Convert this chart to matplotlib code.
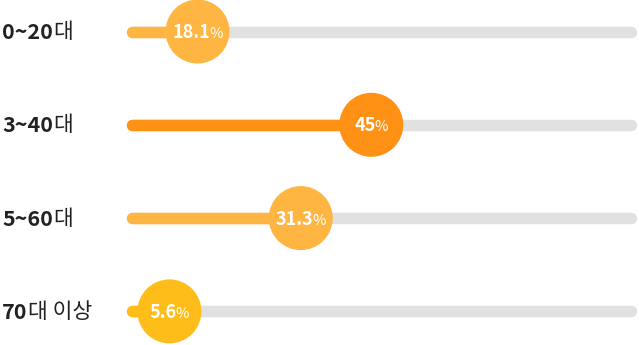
import matplotlib
matplotlib.use("Agg")
import matplotlib.pyplot as plt
from matplotlib.transforms import offset_copy

plt.rcParams['font.family'] = ['Noto Sans CJK KR', 'DejaVu Sans']

# ---- data ----
age_bold = ["0~20", "3~40", "5~60", "70"]
age_rest = ["대", "대", "대", "대 이상"]
values = [18.1, 45, 31.3, 5.6]
value_labels = ["18.1", "45", "31.3", "5.6"]
# where the badges sit on the 0-100 track
badge_pos = [14.0, 48.0, 34.2, 8.5]
colors = ["#FFB541", "#FF9114", "#FFB541", "#FFBD19"]
track_color = "#E1E1E1"

# ---- layout ----
W, H = 639, 345
DPI = 100
track_x0, track_x1 = 126, 637        # pixels
row_y0, row_gap = 31.5, 93.3         # pixels
bar_px = 11.5
badge_px = 64
num_fs, pct_fs = 13, 10.5
gap_px = -1.2

px_per_pct = (track_x1 - track_x0) / 100.0
px2pt = 72.0 / DPI

fig = plt.figure(figsize=(W / DPI, H / DPI), dpi=DPI)
ax = fig.add_axes([0, 0, 1, 1])
ax.set_xlim(-track_x0 / px_per_pct, (W - track_x0) / px_per_pct)
ax.set_ylim((H - row_y0) / row_gap, -row_y0 / row_gap)
ax.axis("off")

cap = bar_px / 2 / px_per_pct   # round cap length in percent units
rows = range(len(values))

for i in rows:
    # background track
    ax.plot([cap, 100 - cap], [i, i], color=track_color, lw=bar_px * px2pt,
            solid_capstyle="round", zorder=1)
    # filled part
    ax.plot([cap, max(values[i], badge_pos[i])], [i, i], color=colors[i],
            lw=bar_px * px2pt, solid_capstyle="round", zorder=2)
    # badge
    ax.scatter([badge_pos[i]], [i], s=(badge_px * px2pt) ** 2, color=colors[i],
               edgecolors="none", zorder=3)

fig.canvas.draw()
r = fig.canvas.get_renderer()

for i in rows:
    # row label: bold numbers + regular suffix
    t1 = fig.text(2 / W, 1 - (row_y0 + i * row_gap + 1) / H, age_bold[i],
                  fontsize=15.5, fontweight="bold", color="#222222",
                  ha="left", va="center")
    ax.annotate(age_rest[i], xy=(1, 0), xycoords=t1, xytext=(0.5, 0),
                textcoords="offset points", fontsize=15.5, fontweight="light",
                color="#222222", ha="left", va="bottom")

    # badge text: number + small percent sign, centered on badge
    tn = ax.text(badge_pos[i], i, value_labels[i], fontsize=num_fs, fontweight="bold",
                 color="white", ha="left", va="baseline", zorder=4)
    tp = ax.text(badge_pos[i], i, "%", fontsize=pct_fs, fontweight="medium",
                 color="white", ha="left", va="baseline", zorder=4)
    wn = tn.get_window_extent(r).width + gap_px
    wp = tp.get_window_extent(r).width
    total = wn + wp
    base = -0.733 * num_fs / 2
    tn.set_transform(offset_copy(ax.transData, fig=fig, x=-total / 2 * px2pt,
                                 y=base, units="points"))
    tp.set_transform(offset_copy(ax.transData, fig=fig, x=(-total / 2 + wn) * px2pt,
                                 y=base, units="points"))

fig.savefig("out.png", dpi=DPI)
